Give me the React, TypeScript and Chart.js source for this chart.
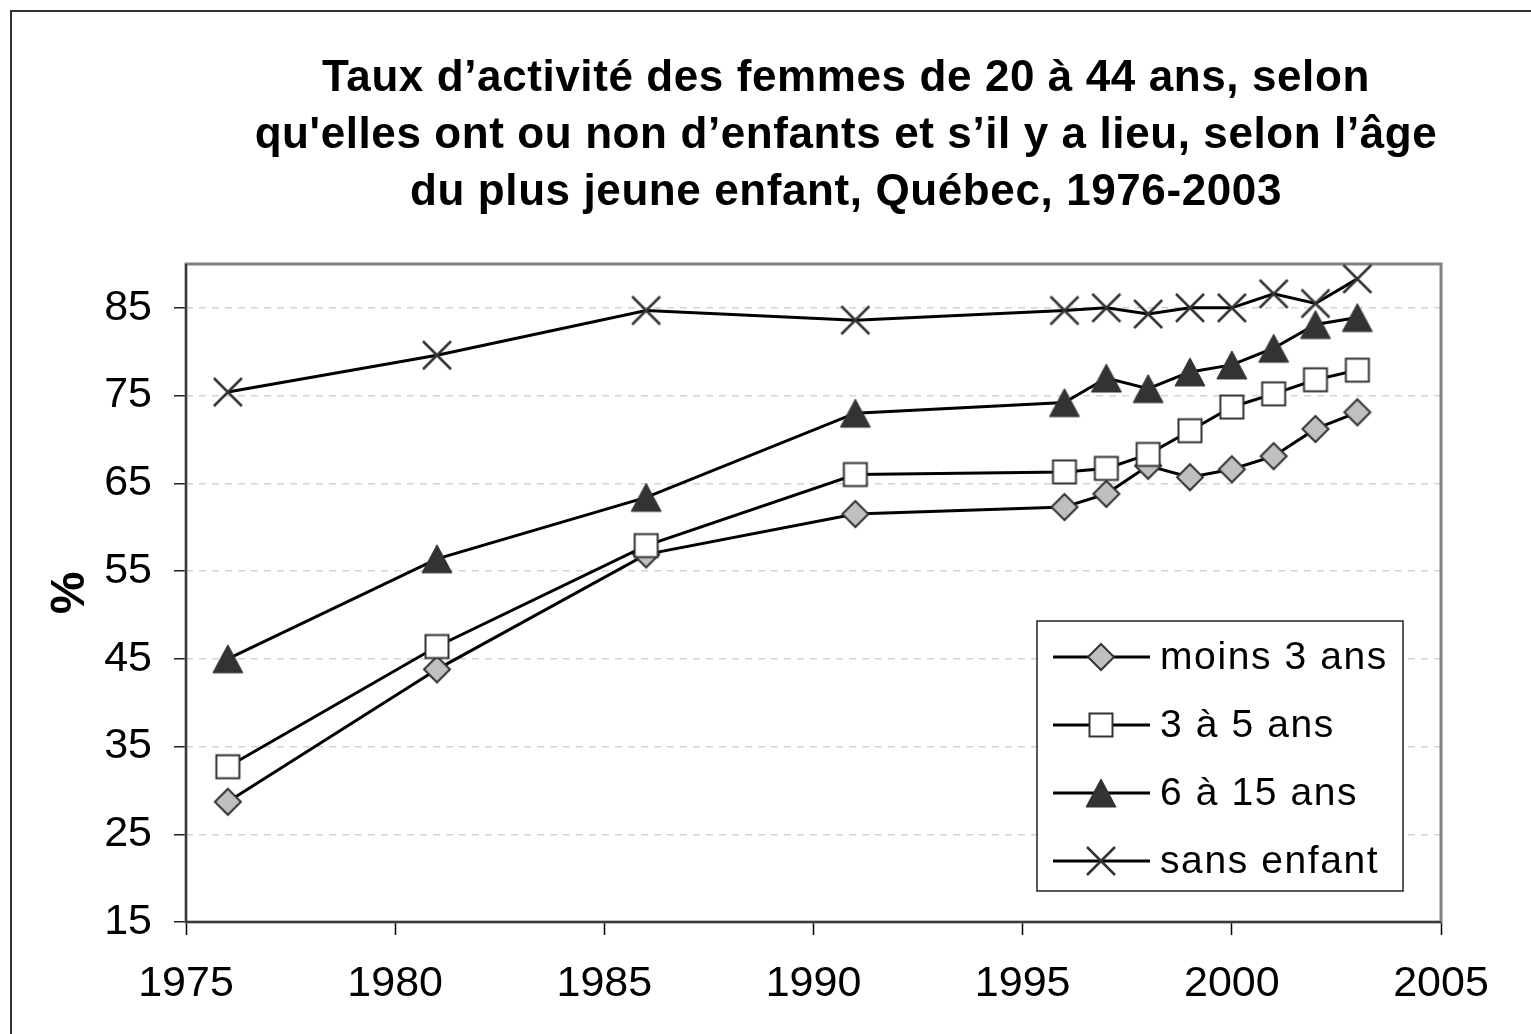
import React, { useEffect, useRef } from "react";
import { Chart, registerables } from "chart.js";

Chart.register(...registerables);

const titleLines = [
  "Taux d\u2019activité des femmes de 20 à 44 ans, selon",
  "qu'elles ont ou non d\u2019enfants et s\u2019il y a lieu, selon l\u2019âge",
  "du plus jeune enfant, Québec, 1976-2003",
];
const yAxisLabel = "%";

const years = [1976, 1981, 1986, 1991, 1996, 1997, 1998, 1999, 2000, 2001, 2002, 2003];
const moins3 = [28.7, 43.8, 56.9, 61.5, 62.3, 63.8, 67.0, 65.7, 66.6, 68.1, 71.2, 73.1];
const trois5 = [32.7, 46.4, 57.9, 66.0, 66.3, 66.7, 68.3, 71.0, 73.7, 75.2, 76.8, 77.9];
const six15 = [45.0, 56.4, 63.4, 73.0, 74.2, 77.0, 75.8, 77.7, 78.5, 80.4, 83.1, 83.9];
const sansEnfant = [75.4, 79.6, 84.7, 83.6, 84.7, 85.0, 84.3, 85.0, 85.0, 86.6, 85.5, 88.3];

const seriesLabels = ["moins 3 ans", "3 à 5 ans", "6 à 15 ans", "sans enfant"];
const xTicks = [1975, 1980, 1985, 1990, 1995, 2000, 2005];
const yTicks = [15, 25, 35, 45, 55, 65, 75, 85];

const FONT = "'Liberation Sans', Arial, sans-serif";

function makeMarker(kind: string): HTMLCanvasElement {
  const c = document.createElement("canvas");
  c.width = 40;
  c.height = 40;
  const ctx = c.getContext("2d")!;
  ctx.lineJoin = "miter";
  const cx = 20, cy = 20;
  if (kind === "diamond") {
    const r = 13;
    ctx.beginPath();
    ctx.moveTo(cx, cy - r);
    ctx.lineTo(cx + r, cy);
    ctx.lineTo(cx, cy + r);
    ctx.lineTo(cx - r, cy);
    ctx.closePath();
    ctx.fillStyle = "#c0c0c0";
    ctx.fill();
    ctx.lineWidth = 2;
    ctx.strokeStyle = "#333";
    ctx.stroke();
  } else if (kind === "square") {
    const h = 11.5;
    ctx.fillStyle = "#fff";
    ctx.fillRect(cx - h, cy - h, 2 * h, 2 * h);
    ctx.lineWidth = 2;
    ctx.strokeStyle = "#333";
    ctx.strokeRect(cx - h, cy - h, 2 * h, 2 * h);
  } else if (kind === "triangle") {
    ctx.beginPath();
    ctx.moveTo(cx, cy - 14);
    ctx.lineTo(cx + 15, cy + 14);
    ctx.lineTo(cx - 15, cy + 14);
    ctx.closePath();
    ctx.fillStyle = "#333";
    ctx.fill();
    ctx.lineWidth = 1;
    ctx.strokeStyle = "#333";
    ctx.stroke();
  } else {
    const h = 14;
    ctx.beginPath();
    ctx.moveTo(cx - h, cy - h);
    ctx.lineTo(cx + h, cy + h);
    ctx.moveTo(cx + h, cy - h);
    ctx.lineTo(cx - h, cy + h);
    ctx.lineWidth = 2.5;
    ctx.strokeStyle = "#333";
    ctx.stroke();
  }
  return c;
}

const decorPlugin = {
  id: "decor",
  beforeDraw(chart: any) {
    const ctx = chart.ctx;
    ctx.save();
    ctx.fillStyle = "#fff";
    ctx.fillRect(0, 0, chart.width, chart.height);
    ctx.restore();
  },
  beforeDatasetsDraw(chart: any) {
    const { ctx, chartArea: a } = chart;
    ctx.save();
    ctx.strokeStyle = "#808080";
    ctx.lineWidth = 3;
    ctx.strokeRect(a.left, a.top, a.right - a.left, a.bottom - a.top);
    ctx.strokeStyle = "#222";
    ctx.lineWidth = 1.5;
    ctx.beginPath();
    ctx.moveTo(a.left, a.top);
    ctx.lineTo(a.left, a.bottom);
    ctx.lineTo(a.right, a.bottom);
    ctx.stroke();
    ctx.restore();
  },
  afterDraw(chart: any) {
    const { ctx, chartArea: a } = chart;
    ctx.save();
    // outer frame
    ctx.strokeStyle = "#333";
    ctx.lineWidth = 2;
    ctx.beginPath();
    ctx.moveTo(11, chart.height);
    ctx.lineTo(11, 11);
    ctx.lineTo(chart.width, 11);
    ctx.stroke();

    // title
    ctx.fillStyle = "#000";
    ctx.font = `bold 44px ${FONT}`;
    (ctx as any).letterSpacing = "0.6px";
    ctx.textAlign = "center";
    ctx.textBaseline = "alphabetic";
    titleLines.forEach((t, i) => ctx.fillText(t, 846, 91 + i * 57));
    (ctx as any).letterSpacing = "0px";

    // y axis label
    ctx.save();
    ctx.translate(a.left - 115, (a.top + a.bottom) / 2);
    ctx.rotate(-Math.PI / 2);
    ctx.font = `bold 48px ${FONT}`;
    ctx.textAlign = "center";
    ctx.textBaseline = "middle";
    ctx.fillText(yAxisLabel, 0, 0);
    ctx.restore();

    // legend
    const lx = 1037, ly = 621, lw = 366, lh = 270;
    ctx.fillStyle = "#fff";
    ctx.fillRect(lx, ly, lw, lh);
    ctx.strokeStyle = "#222";
    ctx.lineWidth = 1.5;
    ctx.strokeRect(lx, ly, lw, lh);
    chart.data.datasets.forEach((ds: any, i: number) => {
      const y = 657 + i * 68;
      ctx.strokeStyle = "#000";
      ctx.lineWidth = 3;
      ctx.beginPath();
      ctx.moveTo(1053, y);
      ctx.lineTo(1150, y);
      ctx.stroke();
      const img = ds.pointStyle as HTMLCanvasElement;
      ctx.drawImage(img, 1101 - img.width / 2, y - img.height / 2);
      ctx.fillStyle = "#000";
      ctx.font = `39px ${FONT}`;
      (ctx as any).letterSpacing = "1.6px";
      ctx.textAlign = "left";
      ctx.textBaseline = "middle";
      ctx.fillText(ds.label, 1160, y + 1);
      (ctx as any).letterSpacing = "0px";
    });
    ctx.restore();
  },
};

export default function App() {
  const ref = useRef<HTMLCanvasElement>(null);
  useEffect(() => {
    document.body.style.margin = "0";
    const markers = ["diamond", "square", "triangle", "cross"].map(makeMarker);
    const seriesValues = [moins3, trois5, six15, sansEnfant];
    const datasets = seriesValues.map((vals, i) => ({
      label: seriesLabels[i],
      data: years.map((yr, j) => ({ x: yr, y: vals[j] })),
      borderColor: "#000",
      borderWidth: 3,
      pointStyle: markers[i],
      pointRadius: 14,
      pointHoverRadius: 14,
      fill: false,
      tension: 0,
      order: 4 - i,
    }));
    const chart = new Chart(ref.current!, {
      type: "line",
      data: { datasets },
      plugins: [decorPlugin],
      options: {
        animation: false,
        responsive: false,
        events: [],
        layout: { padding: { top: 264, right: 90, left: 0, bottom: 0 } },
        plugins: { legend: { display: false }, title: { display: false }, tooltip: { enabled: false } },
        scales: {
          x: {
            type: "linear",
            min: 1975,
            max: 2005,
            afterBuildTicks: (s: any) => {
              s.ticks = xTicks.map((v) => ({ value: v }));
            },
            afterFit: (s: any) => {
              s.height = 112;
            },
            ticks: {
              font: { family: FONT, size: 43 },
              color: "#000",
              padding: 23,
              maxRotation: 0,
              autoSkip: false,
              callback: (v: any) => String(v),
            },
            grid: {
              drawOnChartArea: false,
              tickLength: 13,
              tickColor: "#000",
              tickWidth: 1.5,
            },
            border: { display: false },
          },
          y: {
            min: 15,
            max: 90,
            afterBuildTicks: (s: any) => {
              s.ticks = yTicks.map((v) => ({ value: v }));
            },
            afterFit: (s: any) => {
              s.width = 186;
            },
            ticks: {
              font: { family: FONT, size: 43 },
              color: "#000",
              padding: 22,
              autoSkip: false,
              callback: (v: any) => String(v),
            },
            grid: {
              color: "#d4d4d4",
              lineWidth: 1.5,
              borderDash: [7, 6],
              tickLength: 12,
              tickColor: "#222",
              tickWidth: 1.5,
              tickBorderDash: [],
            } as any,
            border: { display: false, dash: [7, 6] },
          },
        },
      } as any,
    });
    return () => chart.destroy();
  }, []);
  return <canvas ref={ref} width={1531} height={1034} style={{ display: "block", width: 1531, height: 1034 }} />;
}
